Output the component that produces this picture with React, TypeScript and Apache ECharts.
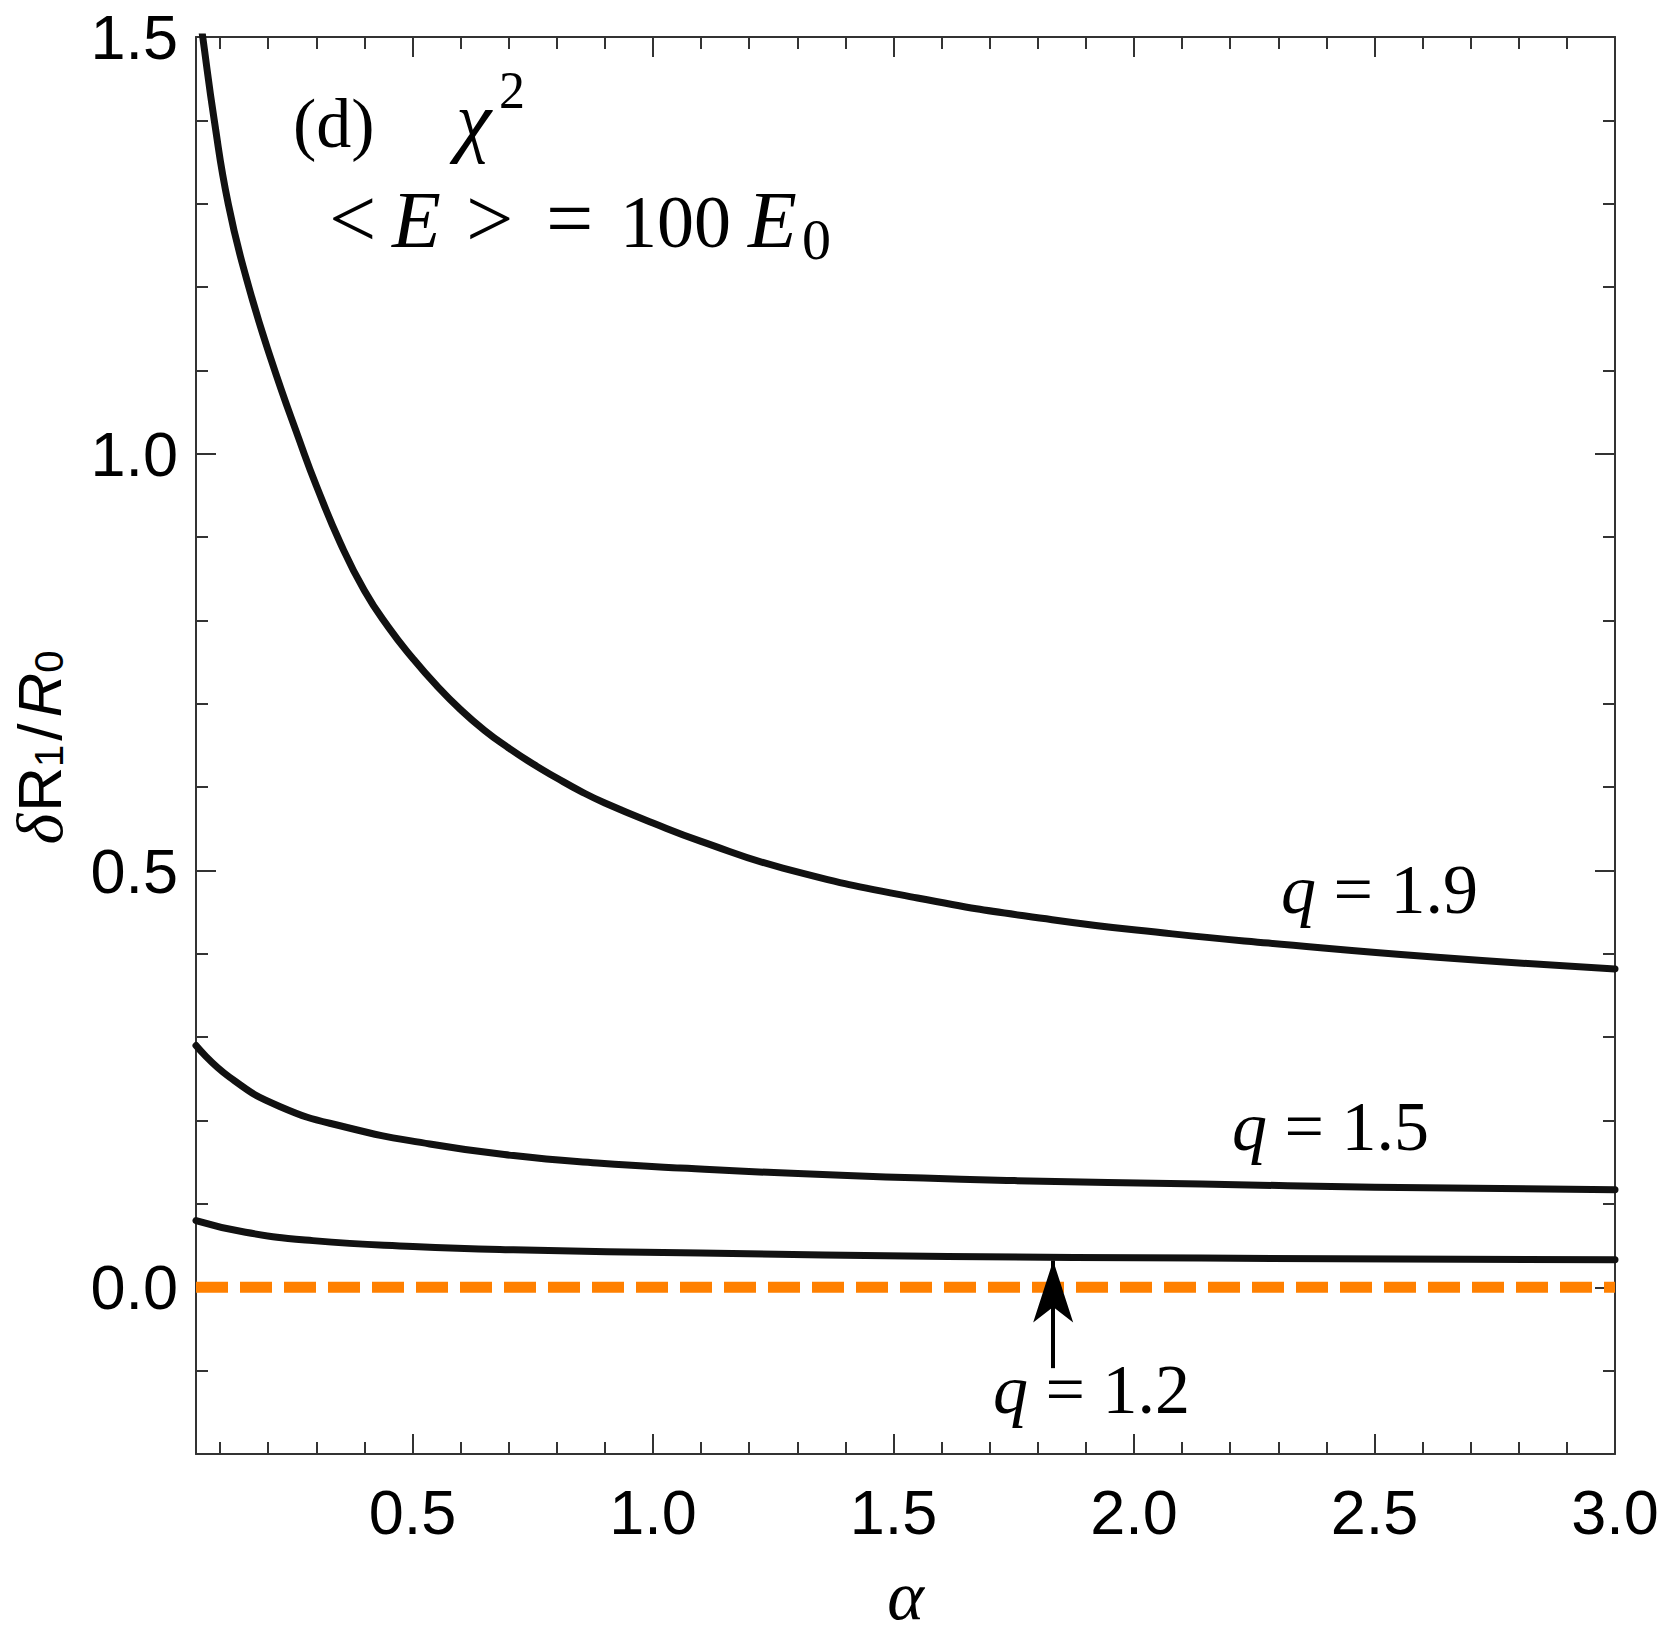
import React, { useEffect, useRef } from 'react';
import * as echarts from 'echarts';

// ---------------- data ----------------
const Q19_ALPHA = [0.05, 0.064, 0.088, 0.117, 0.155, 0.205, 0.27, 0.3, 0.35, 0.4, 0.45, 0.5, 0.55, 0.6, 0.65, 0.7, 0.75, 0.8, 0.85, 0.9, 1.0, 1.1, 1.27, 1.55, 1.83, 2.08, 2.28, 2.63, 3.0];
const Q19_VALUE = [1.56, 1.5, 1.4, 1.3, 1.21, 1.115, 1.008, 0.962, 0.893, 0.836, 0.792, 0.755, 0.722, 0.693, 0.668, 0.647, 0.628, 0.611, 0.595, 0.581, 0.557, 0.535, 0.503, 0.467, 0.441, 0.424, 0.413, 0.396, 0.382];

const Q15_ALPHA = [0.05, 0.12, 0.224, 0.362, 0.536, 0.71, 0.884, 1.057, 1.404, 1.751, 2.14, 2.5, 3.0];
const Q15_VALUE = [0.29, 0.252, 0.217, 0.192, 0.172, 0.158, 0.149, 0.143, 0.134, 0.128, 0.124, 0.12, 0.117];

const Q12_ALPHA = [0.05, 0.153, 0.293, 0.501, 0.71, 1.099, 1.612, 2.14, 3.0];
const Q12_VALUE = [0.08, 0.066, 0.056, 0.049, 0.045, 0.041, 0.037, 0.035, 0.033];

const ZERO_ALPHA = [0.05, 3.0];
const ZERO_VALUE = [0, 0];

const X_TICK_LABELS = ['0.5', '1.0', '1.5', '2.0', '2.5', '3.0'];
const Y_TICK_LABELS = ['0.0', '0.5', '1.0', '1.5'];

const X_RANGE = [0.05, 3.0];
const Y_RANGE = [-0.2, 1.5];

// arrow pointing at the q = 1.2 curve
const ARROW_ALPHA = 1.832;
const ARROW_TAIL = -0.097;
const ARROW_TIP = 0.032;

const CURVE_LABELS = ['1.9', '1.5', '1.2'];

// ---------------- layout / style ----------------
const W = 1661;
const H = 1639;
const GRID = { left: 196, top: 37, width: 1419, height: 1417 };
const SERIF = '"Liberation Serif", "Times New Roman", serif';
const SANS = '"Liberation Sans", Arial, Helvetica, sans-serif';
const AXIS_COLOR = '#333';
const CURVE_COLOR = '#111';
const ORANGE = '#FF8000';

const zip = (xs: number[], ys: number[]) => xs.map((x, i) => [x, ys[i]]);

const fmt = (labels: string[]) => (v: number) => {
  const hit = labels.find((l) => Math.abs(parseFloat(l) - v) < 1e-6);
  return hit ?? '';
};

function axis(kind: 'x' | 'y', position: string, showLabel: boolean) {
  const range = kind === 'x' ? X_RANGE : Y_RANGE;
  return {
    type: 'value',
    position,
    min: range[0],
    max: range[1],
    splitNumber: kind === 'x' ? 6 : 3,
    axisLine: { show: true, onZero: false, lineStyle: { color: AXIS_COLOR, width: 2 } },
    axisTick: { show: true, inside: true, length: 20, lineStyle: { color: AXIS_COLOR, width: 2 } },
    minorTick: { show: true, splitNumber: 5, length: 12, lineStyle: { color: AXIS_COLOR, width: 2 } },
    splitLine: { show: false },
    minorSplitLine: { show: false },
    axisLabel: {
      show: showLabel,
      fontSize: 63,
      fontFamily: SANS,
      color: '#000',
      margin: kind === 'x' ? 26 : 18,
      formatter: fmt(kind === 'x' ? X_TICK_LABELS : Y_TICK_LABELS),
    },
  };
}

// baseline -> central-baseline y for 'middle' vertical alignment
const midY = (baseline: number, size: number, serif = true) => baseline - (serif ? 0.3375 : 0.3465) * size;

function plainText(x: number, baseline: number, text: string, size: number, italic = false, align = 'left') {
  return {
    type: 'text',
    x,
    y: midY(baseline, size),
    silent: true,
    style: {
      text,
      fontFamily: SERIF,
      fontSize: size,
      fontStyle: italic ? 'italic' : 'normal',
      fill: '#000',
      textAlign: align,
      textVerticalAlign: 'middle',
    },
  };
}

function qLabel(x: number, baseline: number, value: string) {
  return {
    type: 'text',
    x,
    y: midY(baseline, 70),
    silent: true,
    style: {
      text: `{i|q}{r| = ${value}}`,
      textAlign: 'left',
      textVerticalAlign: 'middle',
      rich: {
        i: { fontFamily: SERIF, fontSize: 70, fontStyle: 'italic', fill: '#000', verticalAlign: 'middle', lineHeight: 70 },
        r: { fontFamily: SERIF, fontSize: 70, fill: '#000', verticalAlign: 'middle', lineHeight: 70 },
      },
    },
  };
}

function buildOption() {
  const curve = (name: string, xs: number[], ys: number[]) => ({
    name,
    type: 'line',
    data: zip(xs, ys),
    showSymbol: false,
    symbol: 'none',
    smooth: 0.5,
    clip: true,
    silent: true,
    lineStyle: { color: CURVE_COLOR, width: 7, cap: 'round', join: 'round' },
    z: 3,
  });

  return {
    animation: false,
    backgroundColor: '#fff',
    grid: { ...GRID, containLabel: false, outerBoundsMode: 'none' },
    xAxis: [axis('x', 'bottom', true), axis('x', 'top', false)],
    yAxis: [axis('y', 'left', true), axis('y', 'right', false)],
    series: [
      curve('q = 1.9', Q19_ALPHA, Q19_VALUE),
      curve('q = 1.5', Q15_ALPHA, Q15_VALUE),
      curve('q = 1.2', Q12_ALPHA, Q12_VALUE),
      {
        name: 'zero',
        type: 'line',
        data: zip(ZERO_ALPHA, ZERO_VALUE),
        showSymbol: false,
        symbol: 'none',
        silent: true,
        clip: false,
        lineStyle: { color: ORANGE, width: 11, type: [32, 12], cap: 'butt' },
        z: 4,
      },
      {
        name: 'arrow',
        type: 'line',
        data: [],
        silent: true,
        z: 6,
        markLine: {
          silent: true,
          animation: false,
          symbol: ['none', 'arrow'],
          symbolSize: [30, 62],
          label: { show: false },
          lineStyle: { color: '#000', width: 4, type: 'solid' },
          emphasis: { disabled: true },
          data: [[{ coord: [ARROW_ALPHA, ARROW_TAIL] }, { coord: [ARROW_ALPHA, ARROW_TIP] }]],
        },
      },
    ],
    graphic: [
      // panel annotation
      plainText(293, 147, '(d)', 70),
      plainText(456, 147, 'χ', 80, true),
      plainText(499, 108, '2', 52),
      plainText(329, 247, '<', 84),
      plainText(392, 247, 'E', 80, true),
      plainText(466, 247, '>', 84),
      plainText(546, 247, '=', 84),
      plainText(620, 247, '100', 74),
      plainText(748, 247, 'E', 80, true),
      plainText(802, 259, '0', 58),
      // curve labels
      qLabel(1281, 913, CURVE_LABELS[0]),
      qLabel(1232, 1150, CURVE_LABELS[1]),
      qLabel(993, 1413, CURVE_LABELS[2]),
      // x-axis title
      plainText(GRID.left + GRID.width / 2, 1619, 'α', 70, true, 'center'),
      // y-axis title (rotated)
      {
        type: 'text',
        x: 39,
        y: GRID.top + GRID.height / 2,
        rotation: Math.PI / 2,
        silent: true,
        style: {
          text: '{d|δ}{r|R}{s|1}{sl|/}{ri|R}{s|0}',
          textAlign: 'center',
          textVerticalAlign: 'middle',
          rich: {
            d: { fontFamily: SERIF, fontStyle: 'italic', fontSize: 66, lineHeight: 60, verticalAlign: 'middle', fill: '#000', padding: [0, 2, 0, 0] },
            r: { fontFamily: SANS, fontSize: 62, lineHeight: 60, verticalAlign: 'middle', fill: '#000' },
            s: { fontFamily: SANS, fontSize: 40, lineHeight: 24, verticalAlign: 'bottom', fill: '#000', padding: [0, 4, 0, 0] },
            sl: { fontFamily: SANS, fontSize: 62, lineHeight: 60, verticalAlign: 'middle', fill: '#000', padding: [0, 6, 0, 0] },
            ri: { fontFamily: SANS, fontStyle: 'italic', fontSize: 62, lineHeight: 60, verticalAlign: 'middle', fill: '#000' },
          },
        },
      },
    ],
  };
}

export default function App() {
  const ref = useRef<HTMLDivElement>(null);
  useEffect(() => {
    if (!ref.current) return;
    const chart = echarts.init(ref.current, null, { renderer: 'svg' });
    chart.setOption(buildOption() as any);
    return () => chart.dispose();
  }, []);
  return (
    <div
      ref={ref}
      style={{ position: 'absolute', left: 0, top: 0, width: W, height: H, background: '#fff' }}
    />
  );
}
